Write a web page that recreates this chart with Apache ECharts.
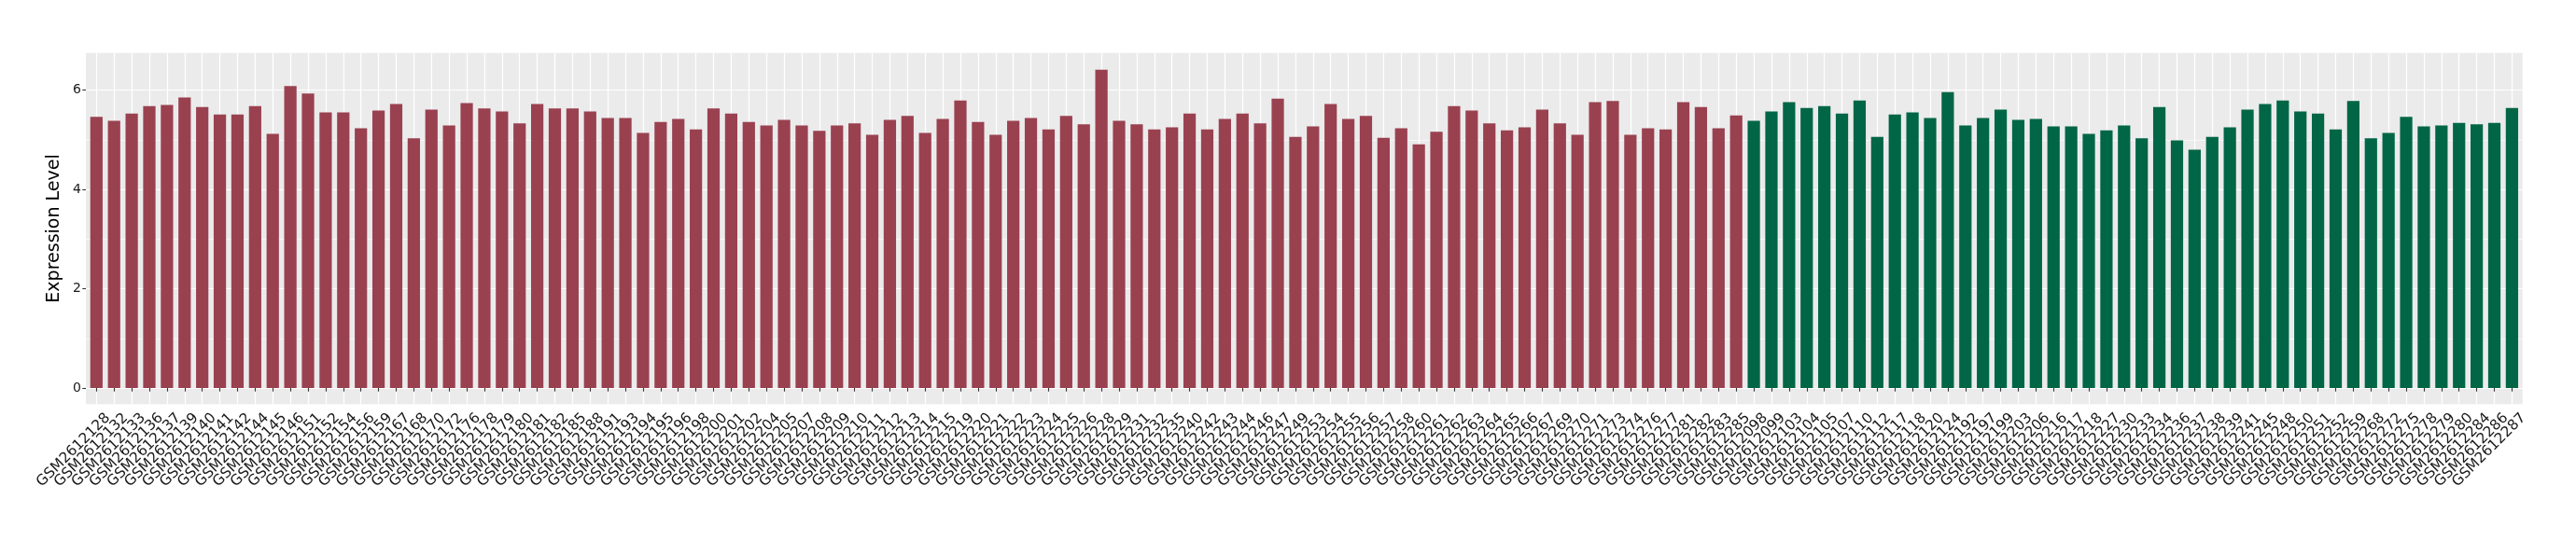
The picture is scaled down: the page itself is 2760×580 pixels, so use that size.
<!DOCTYPE html>
<html><head><meta charset="utf-8">
<script src="https://cdn.jsdelivr.net/npm/echarts@6/dist/echarts.min.js"></script>
<style>html,body{margin:0;padding:0;background:#fff}#c{width:2760px;height:580px}</style>
</head><body><div id="c"></div>
<script>
// Group 1 (red) samples and values
const groupASamples = ["GSM2612128","GSM2612132","GSM2612133","GSM2612136","GSM2612137","GSM2612139","GSM2612140","GSM2612141","GSM2612142","GSM2612144","GSM2612145","GSM2612146","GSM2612151","GSM2612152","GSM2612154","GSM2612156","GSM2612159","GSM2612167","GSM2612168","GSM2612170","GSM2612172","GSM2612176","GSM2612178","GSM2612179","GSM2612180","GSM2612181","GSM2612182","GSM2612185","GSM2612188","GSM2612191","GSM2612193","GSM2612194","GSM2612195","GSM2612196","GSM2612198","GSM2612200","GSM2612201","GSM2612202","GSM2612204","GSM2612205","GSM2612207","GSM2612208","GSM2612209","GSM2612210","GSM2612211","GSM2612212","GSM2612213","GSM2612214","GSM2612215","GSM2612219","GSM2612220","GSM2612221","GSM2612222","GSM2612223","GSM2612224","GSM2612225","GSM2612226","GSM2612228","GSM2612229","GSM2612231","GSM2612232","GSM2612235","GSM2612240","GSM2612242","GSM2612243","GSM2612244","GSM2612246","GSM2612247","GSM2612249","GSM2612253","GSM2612254","GSM2612255","GSM2612256","GSM2612257","GSM2612258","GSM2612260","GSM2612261","GSM2612262","GSM2612263","GSM2612264","GSM2612265","GSM2612266","GSM2612267","GSM2612269","GSM2612270","GSM2612271","GSM2612273","GSM2612274","GSM2612276","GSM2612277","GSM2612281","GSM2612282","GSM2612283","GSM2612285"];
const groupAValues = [5.46,5.38,5.53,5.68,5.70,5.85,5.66,5.51,5.51,5.68,
  5.12,6.08,5.93,5.55,5.55,5.23,5.59,5.72,5.03,5.61,
  5.29,5.74,5.63,5.57,5.33,5.72,5.63,5.63,5.57,5.44,
  5.44,5.14,5.36,5.42,5.21,5.63,5.53,5.36,5.29,5.40,
  5.29,5.18,5.29,5.33,5.10,5.40,5.48,5.14,5.42,5.79,
  5.36,5.10,5.38,5.44,5.21,5.48,5.31,6.41,5.38,5.31,
  5.21,5.25,5.53,5.21,5.42,5.53,5.33,5.83,5.06,5.27,
  5.72,5.42,5.48,5.04,5.23,4.91,5.16,5.68,5.59,5.33,
  5.19,5.25,5.61,5.33,5.10,5.76,5.78,5.10,5.23,5.21,
  5.76,5.66,5.23,5.49];
// Group 2 (green) samples and values
const groupBSamples = ["GSM2612098","GSM2612099","GSM2612103","GSM2612104","GSM2612105","GSM2612107","GSM2612110","GSM2612112","GSM2612117","GSM2612118","GSM2612120","GSM2612124","GSM2612192","GSM2612197","GSM2612199","GSM2612203","GSM2612206","GSM2612216","GSM2612217","GSM2612218","GSM2612227","GSM2612230","GSM2612233","GSM2612234","GSM2612236","GSM2612237","GSM2612238","GSM2612239","GSM2612241","GSM2612245","GSM2612248","GSM2612250","GSM2612251","GSM2612252","GSM2612259","GSM2612268","GSM2612272","GSM2612275","GSM2612278","GSM2612279","GSM2612280","GSM2612284","GSM2612286","GSM2612287"];
const groupBValues = [5.38,5.57,5.76,5.64,5.68,5.53,5.79,5.06,5.51,5.55,
  5.44,5.96,5.29,5.44,5.61,5.40,5.42,5.27,5.27,5.12,
  5.19,5.29,5.03,5.66,4.99,4.80,5.06,5.25,5.61,5.72,
  5.79,5.57,5.53,5.21,5.78,5.03,5.14,5.46,5.27,5.29,
  5.34,5.31,5.34,5.64];
const yTickLabels = [0, 2, 4, 6];
const yMinorTicks = [1, 3, 5];
const yTitle = "Expression Level";

const categories = groupASamples.concat(groupBSamples);
const seriesA = groupAValues.concat(groupBSamples.map(() => null));
const seriesB = groupASamples.map(() => null).concat(groupBValues);

const yMin = -0.325, yMax = 6.75;
const chart = echarts.init(document.getElementById('c'), null, {renderer: 'canvas'});
const option = {
  animation: false,
  backgroundColor: '#ffffff',
  grid: [
    {left: 92, right: 57.3, top: 56.7, bottom: 146.7, show: true, backgroundColor: '#EBEBEB', borderWidth: 0},
    {left: 103.33, right: 68.6, top: 56.7, bottom: 146.7}
  ],
  xAxis: [
    {gridIndex: 0, type: 'value', min: 0, max: 1, show: false},
    {gridIndex: 1, type: 'category', data: categories, boundaryGap: false,
      axisLine: {show: false},
      axisTick: {show: true, interval: 0, length: 3.7, lineStyle: {color: '#333333', width: 1.1}},
      axisLabel: {interval: 0, rotate: 45, margin: 0, verticalAlign: 'top', padding: [9.5, 0, 0, 0],
        color: '#1A1A1A', fontFamily: 'DejaVu Sans', fontSize: 15.5},
      splitLine: {show: true, interval: 0, lineStyle: {color: '#ffffff', width: 1.2}}
    }
  ],
  yAxis: [
    {gridIndex: 0, type: 'value', min: yMin, max: yMax, position: 'left',
      axisLine: {show: false},
      axisTick: {show: true, length: 3.7, customValues: yTickLabels, lineStyle: {color: '#333333', width: 1.1}},
      axisLabel: {customValues: yTickLabels, margin: 5, color: '#1A1A1A', fontFamily: 'DejaVu Sans', fontSize: 14},
      splitLine: {show: true, lineStyle: {color: '#ffffff', width: 1.2}},
      name: yTitle, nameLocation: 'middle', nameRotate: 90, nameGap: 10,
      nameTextStyle: {color: '#000000', fontFamily: 'DejaVu Sans', fontSize: 19}
    },
    {gridIndex: 0, type: 'value', min: yMin, max: yMax, position: 'left',
      axisLine: {show: false},
      axisTick: {show: false, customValues: yMinorTicks},
      axisLabel: {show: false, customValues: yMinorTicks},
      splitLine: {show: true, lineStyle: {color: '#ffffff', width: 0.6}}
    },
    {gridIndex: 1, type: 'value', min: yMin, max: yMax, show: false}
  ],
  series: [
    {type: 'bar', xAxisIndex: 1, yAxisIndex: 2, data: seriesA, barWidth: '70%', barGap: '-100%', clip: false,
      itemStyle: {color: '#9A4150'}},
    {type: 'bar', xAxisIndex: 1, yAxisIndex: 2, data: seriesB, barWidth: '70%', barGap: '-100%', clip: false,
      itemStyle: {color: '#016646'}}
  ]
};
chart.setOption(option);
</script>
</body></html>
